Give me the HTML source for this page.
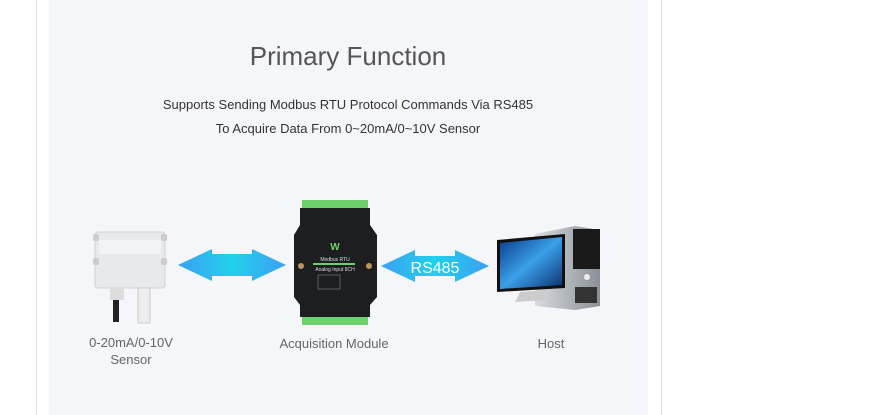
<!DOCTYPE html>
<html><head><meta charset="utf-8"><style>
html,body{margin:0;padding:0;background:#fff;width:890px;height:415px;overflow:hidden;font-family:"Liberation Sans",sans-serif}
</style></head><body>
<svg width="890" height="415" viewBox="0 0 890 415" xmlns="http://www.w3.org/2000/svg" font-family="Liberation Sans, sans-serif">
<defs>
<linearGradient id="ag" x1="0" x2="1"><stop offset="0" stop-color="#3aa0f0"/><stop offset="0.5" stop-color="#22d0ec"/><stop offset="1" stop-color="#3aa0f0"/></linearGradient>
<linearGradient id="scr" x1="0" y1="0" x2="1" y2="1"><stop offset="0" stop-color="#0a3a8a"/><stop offset="0.5" stop-color="#3aa0e8"/><stop offset="1" stop-color="#0a3070"/></linearGradient>
<linearGradient id="tw" x1="0" x2="1"><stop offset="0" stop-color="#d8dce0"/><stop offset="1" stop-color="#8a9096"/></linearGradient>
</defs>
<line x1="36.5" y1="0" x2="36.5" y2="415" stroke="#ddd"/>
<line x1="661.5" y1="0" x2="661.5" y2="415" stroke="#ddd"/>
<rect x="49" y="0" width="599" height="415" fill="#f4f6fa"/>
<text x="348" y="65" text-anchor="middle" font-size="26" fill="#555">Primary Function</text>
<text x="348" y="109" text-anchor="middle" font-size="13" fill="#333">Supports Sending Modbus RTU Protocol Commands Via RS485</text>
<text x="348" y="133" text-anchor="middle" font-size="13" fill="#333">To Acquire Data From 0~20mA/0~10V Sensor</text>
<!-- sensor -->
<rect x="95" y="232" width="70" height="56" rx="3" fill="#e8e9ea" stroke="#d0d2d4"/>
<rect x="93" y="234" width="6" height="7" rx="2" fill="#ccc"/><rect x="161" y="234" width="6" height="7" rx="2" fill="#ccc"/>
<rect x="93" y="258" width="6" height="7" rx="2" fill="#ccc"/><rect x="161" y="258" width="6" height="7" rx="2" fill="#ccc"/>
<rect x="99" y="240" width="62" height="14" fill="#f2f3f4"/>
<rect x="110" y="288" width="14" height="12" fill="#ddd"/>
<rect x="113" y="300" width="6" height="22" fill="#222"/>
<rect x="138" y="288" width="12" height="35" fill="#eee" stroke="#ccc"/>
<!-- module -->
<rect x="302" y="200" width="66" height="10" fill="#6ed06a"/>
<rect x="302" y="314" width="66" height="11" fill="#6ed06a"/>
<path d="M300 208 H370 V225 L377 235 V297 L370 305 V317 H300 V305 L294 297 V235 L300 225 Z" fill="#1c1e20"/>
<circle cx="301" cy="266" r="3" fill="#b89860"/><circle cx="369" cy="266" r="3" fill="#b89860"/>
<text x="335" y="250" text-anchor="middle" font-size="10" font-weight="bold" fill="#6ed06a">W</text>
<text x="335" y="261" text-anchor="middle" font-size="5" fill="#ddd">Modbus RTU</text>
<rect x="313" y="263" width="42" height="2" fill="#6ed06a"/>
<text x="335" y="271" text-anchor="middle" font-size="5" fill="#ddd">Analog Input 8CH</text>
<rect x="318" y="275" width="22" height="14" fill="none" stroke="#999" stroke-width="0.5"/>
<!-- arrows -->
<path d="M178 265 L212 249 V254 H252 V249 L286 265 L252 281 V276 H212 V281 Z" fill="url(#ag)"/>
<path d="M381 266 L415 250 V256 H455 V250 L489 266 L455 282 V276 H415 V282 Z" fill="url(#ag)"/>
<text x="435" y="273" text-anchor="middle" font-size="16" fill="#fff">RS485</text>
<!-- host -->
<path d="M535 234 L575 226 L600 230 V306 L575 310 L535 306 Z" fill="url(#tw)"/>
<rect x="573" y="229" width="27" height="40" fill="#1a1a1a"/>
<rect x="575" y="287" width="22" height="16" fill="#333"/>
<circle cx="587" cy="277" r="3" fill="#eee"/>
<path d="M497 240 L565 234 V288 L497 292 Z" fill="#111"/>
<path d="M500 243 L562 237 V285 L500 289 Z" fill="url(#scr)"/>
<path d="M520 292 L545 290 L548 300 L515 302 Z" fill="#ccc"/>
<text x="131" y="347" text-anchor="middle" font-size="13" fill="#666">0-20mA/0-10V</text>
<text x="131" y="364" text-anchor="middle" font-size="13" fill="#666">Sensor</text>
<text x="334" y="348" text-anchor="middle" font-size="13" fill="#666">Acquisition Module</text>
<text x="551" y="348" text-anchor="middle" font-size="13" fill="#666">Host</text>
</svg>
</body></html>
